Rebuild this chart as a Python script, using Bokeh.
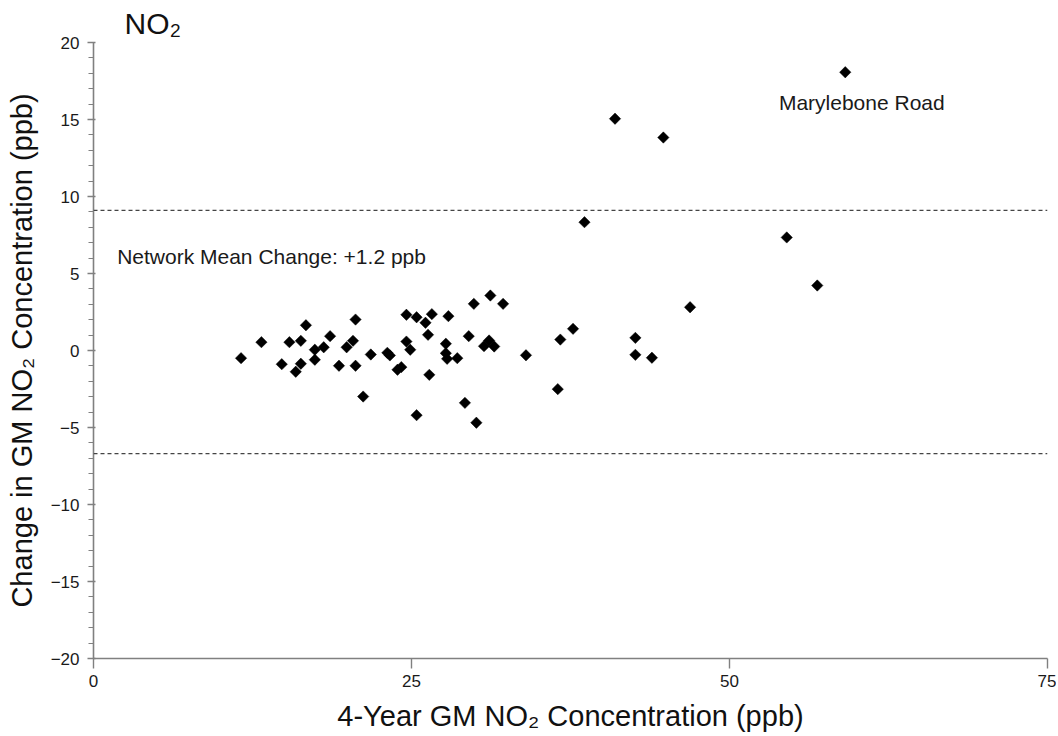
import numpy as np
from bokeh.plotting import figure
from bokeh.models import Range1d, FixedTicker, Span, Label, ColumnDataSource
from bokeh.embed import file_html
from bokeh.resources import INLINE

# ---- data ----
x_conc = [11.6, 13.2, 14.8, 15.4, 16.3, 16.3, 15.9, 16.7, 17.4, 17.4, 18.1, 18.6,
          19.3, 19.9, 20.4, 20.6, 20.6, 21.2, 21.8, 23.1, 23.3, 23.9, 24.2, 24.6,
          24.6, 24.9, 25.4, 26.1, 26.6, 26.3, 26.4, 25.4, 27.7, 27.7, 27.8, 28.6,
          27.9, 29.5, 29.2, 30.1, 29.9, 31.2, 32.2, 31.1, 30.7, 31.5, 34.0, 36.5,
          36.7, 37.7, 38.6, 41.0, 44.8, 42.6, 42.6, 43.9, 46.9, 54.5, 56.9, 59.1]
y_change = [-0.50, 0.54, -0.89, 0.54, 0.63, -0.86, -1.38, 1.64, 0.05, -0.60, 0.21, 0.93,
            -0.99, 0.21, 0.63, 2.01, -0.99, -2.99, -0.26, -0.15, -0.32, -1.25, -1.08, 2.32,
            0.58, 0.05, 2.16, 1.80, 2.36, 1.02, -1.58, -4.20, 0.44, -0.18, -0.54, -0.50,
            2.23, 0.93, -3.40, -4.69, 3.03, 3.57, 3.03, 0.65, 0.28, 0.26, -0.31, -2.51,
            0.71, 1.41, 8.33, 15.05, 13.83, 0.82, -0.28, -0.47, 2.81, 7.34, 4.22, 18.07]
upper_limit = 9.1
lower_limit = -6.7
x_ticks = [0, 25, 50, 75]
y_ticks = [-20, -15, -10, -5, 0, 5, 10, 15, 20]
y_minor = list(range(-20, 21))

title_text = "NO₂"
mean_text = "Network Mean Change: +1.2 ppb"
site_text = "Marylebone Road"
x_label = "4-Year GM NO₂ Concentration (ppb)"
y_label = "Change in GM NO₂ Concentration (ppb)"

FONT = "Liberation Sans"

p = figure(width=1056, height=734, output_backend="svg", toolbar_location=None,
           x_range=Range1d(0, 75), y_range=Range1d(-20, 20),
           min_border_left=93, min_border_top=42, min_border_right=9, min_border_bottom=76)
p.outline_line_color = None
p.xgrid.grid_line_color = None
p.ygrid.grid_line_color = None
p.background_fill_color = "white"
p.border_fill_color = "white"

# title
p.title.text = title_text
p.title.align = "left"
p.title.offset = 31
p.title.standoff = 6
p.title.text_font = FONT
p.title.text_font_size = "30px"
p.title.text_font_style = "normal"
p.title.text_color = "#111111"

# axes
p.xaxis.ticker = FixedTicker(ticks=x_ticks, minor_ticks=[])
p.yaxis.ticker = FixedTicker(ticks=y_ticks, minor_ticks=y_minor)
p.yaxis.major_label_overrides = {v: str(v).replace("-", "−") for v in y_ticks}
for ax in (p.xaxis[0], p.yaxis[0]):
    ax.axis_line_color = "#808080"
    ax.axis_line_width = 1.6
    ax.major_tick_line_color = "#808080"
    ax.minor_tick_line_color = "#808080"
    ax.major_tick_line_width = 1.4
    ax.minor_tick_line_width = 1.2
    ax.major_label_text_font = FONT
    ax.major_label_text_font_size = "17px"
    ax.major_label_text_color = "#1a1a1a"
    ax.axis_label_text_font = FONT
    ax.axis_label_text_font_size = "29px"
    ax.axis_label_text_font_style = "normal"
    ax.axis_label_text_color = "#111111"

p.xaxis.major_tick_out = 10
p.xaxis.major_tick_in = 0
p.xaxis.major_label_standoff = 6
p.xaxis.axis_label = x_label
p.xaxis.axis_label_standoff = 10

p.yaxis.major_tick_out = 6
p.yaxis.major_tick_in = 2
p.yaxis.minor_tick_out = 5
p.yaxis.minor_tick_in = 0
p.yaxis.major_label_standoff = 8
p.yaxis.axis_label = y_label
p.yaxis.axis_label_standoff = 10

# dashed limits
for v in (upper_limit, lower_limit):
    p.add_layout(Span(location=v, dimension="width", line_color="#444444",
                      line_dash="4 3", line_width=1.3))

# points
src = ColumnDataSource(dict(x=x_conc, y=y_change))
p.scatter("x", "y", source=src, marker="square", angle=np.pi / 4, size=8,
          fill_color="black", line_color="black", line_width=0.5)

# texts
p.add_layout(Label(x=1.86, y=6.1, text=mean_text, text_font=FONT,
                   text_font_size="21px", text_color="#1a1a1a",
                   text_baseline="alphabetic", text_align="left"))
p.add_layout(Label(x=60.4, y=16.1, text=site_text, text_font=FONT,
                   text_font_size="21px", text_color="#1a1a1a",
                   text_baseline="alphabetic", text_align="center"))

open("out.html", "w").write(file_html(p, INLINE))
